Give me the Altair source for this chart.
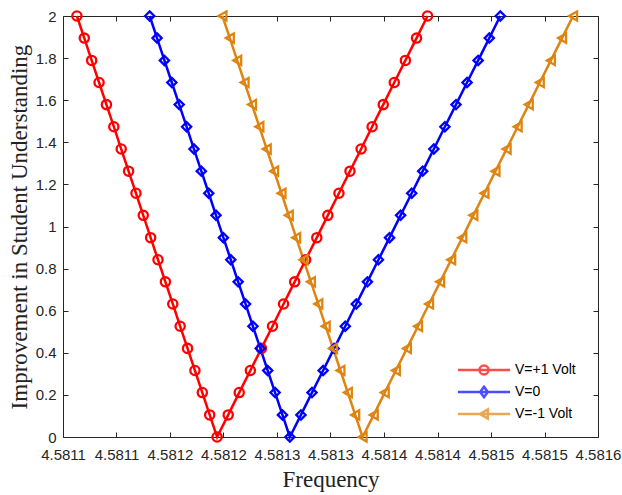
import altair as alt
import pandas as pd

# ---------------- data ----------------
series = ["V=+1 Volt", "V=0", "V=-1 Volt"]
colors = ["#FF0000", "#0000FF", "#DE8410"]
marker_shapes = ["circle", "diamond", "triangle-left"]

# Improvement level of each point on a branch (bottom -> top)
levels = [0.0, 0.105, 0.211, 0.316, 0.421, 0.526, 0.632, 0.737, 0.842, 0.947,
          1.053, 1.158, 1.263, 1.368, 1.474, 1.579, 1.684, 1.789, 1.895, 2.0]

# Frequencies of the left (falling) and right (rising) branches, bottom -> top
red_left = [4.5812440, 4.5812371, 4.5812302, 4.5812233, 4.5812164, 4.5812095, 4.5812026,
            4.5811957, 4.5811888, 4.5811819, 4.5811750, 4.5811682, 4.5811613, 4.5811544,
            4.5811475, 4.5811406, 4.5811337, 4.5811268, 4.5811199, 4.5811130]
red_right = [4.5812440, 4.5812544, 4.5812647, 4.5812751, 4.5812854, 4.5812958, 4.5813061,
             4.5813165, 4.5813268, 4.5813372, 4.5813475, 4.5813579, 4.5813682, 4.5813786,
             4.5813889, 4.5813993, 4.5814096, 4.5814200, 4.5814304, 4.5814407]
blue_left = [4.5813120, 4.5813051, 4.5812982, 4.5812913, 4.5812844, 4.5812775, 4.5812706,
             4.5812637, 4.5812568, 4.5812499, 4.5812430, 4.5812362, 4.5812293, 4.5812224,
             4.5812155, 4.5812086, 4.5812017, 4.5811948, 4.5811879, 4.5811810]
blue_right = [4.5813120, 4.5813224, 4.5813327, 4.5813431, 4.5813534, 4.5813638, 4.5813741,
              4.5813845, 4.5813948, 4.5814052, 4.5814155, 4.5814259, 4.5814362, 4.5814466,
              4.5814569, 4.5814673, 4.5814776, 4.5814880, 4.5814984, 4.5815087]
orange_left = [4.5813800, 4.5813731, 4.5813662, 4.5813593, 4.5813524, 4.5813455, 4.5813386,
               4.5813317, 4.5813248, 4.5813179, 4.5813110, 4.5813042, 4.5812973, 4.5812904,
               4.5812835, 4.5812766, 4.5812697, 4.5812628, 4.5812559, 4.5812490]
orange_right = [4.5813800, 4.5813904, 4.5814007, 4.5814111, 4.5814214, 4.5814318, 4.5814421,
                4.5814525, 4.5814628, 4.5814732, 4.5814835, 4.5814939, 4.5815042, 4.5815146,
                4.5815249, 4.5815353, 4.5815456, 4.5815560, 4.5815664, 4.5815767]

x_ticks = [4.5811, 4.58115, 4.5812, 4.58125, 4.5813, 4.58135, 4.5814, 4.58145, 4.5815, 4.58155, 4.5816]
x_tick_labels = ["4.5811", "4.5811", "4.5812", "4.5812", "4.5813", "4.5813",
                 "4.5814", "4.5814", "4.5815", "4.5815", "4.5816"]
y_ticks = [0, 0.2, 0.4, 0.6, 0.8, 1.0, 1.2, 1.4, 1.6, 1.8, 2.0]

branches = {
    series[0]: (red_left, red_right),
    series[1]: (blue_left, blue_right),
    series[2]: (orange_left, orange_right),
}

rows = []
for name, (left, right) in branches.items():
    order = 0
    for f, v in reversed(list(zip(left, levels))):
        rows.append({"series": name, "freq": f, "val": v, "order": order})
        order += 1
    for f, v in list(zip(right, levels))[1:]:
        rows.append({"series": name, "freq": f, "val": v, "order": order})
        order += 1
df = pd.DataFrame(rows)

# ---------------- layout ----------------
W, H = 535, 421
AXIS_COLOR = "#262626"

x_scale = alt.Scale(domain=[4.5811, 4.5816], nice=False, zero=False)
y_scale = alt.Scale(domain=[0, 2], nice=False, zero=True)

label_expr = "[" + ",".join("'%s'" % s for s in x_tick_labels) + "][round((datum.value - 4.5811) / 0.00005)]"

color_scale = alt.Scale(domain=series, range=colors)
marker_scale = alt.Scale(domain=series, range=marker_shapes)
legend_shapes = [
    "M -5.8 0 L 5.8 0 M -1 0 A 1 1 0 1 0 1 0 A 1 1 0 1 0 -1 0",
    "M -5.8 0 L 5.8 0 M 0 -1.15 L 0.85 0 L 0 1.15 L -0.85 0 Z",
    "M -5.8 0 L 5.8 0 M -0.9 0 L 0.85 -1 L 0.85 1 Z",
]
legend_shape_scale = alt.Scale(domain=series, range=legend_shapes)

legend_props = dict(title=None, orient="none", legendX=414, legendY=347,
                    symbolSize=81, symbolStrokeWidth=2.5, labelOffset=24,
                    rowPadding=1, padding=0, labelFontSize=14,
                    labelFont="Liberation Sans", labelColor="#000000")

base = alt.Chart(df)

# main axes (labels + titles + left/bottom border)
lines = base.mark_line(strokeWidth=2.5).encode(
    x=alt.X("freq:Q", scale=x_scale,
            axis=alt.Axis(orient="bottom", values=x_ticks, labelExpr=label_expr,
                          labelOverlap=False, labelFlush=False, labelFontSize=15,
                          ticks=False, tickSize=0, labelPadding=10, grid=False,
                          title="Frequency", titlePadding=6)),
    y=alt.Y("val:Q", scale=y_scale,
            axis=alt.Axis(orient="left", values=y_ticks, format="~g",
                          ticks=False, tickSize=0, labelPadding=7, grid=False,
                          title="Improvement in Student Understanding", titlePadding=4)),
    color=alt.Color("series:N", scale=color_scale, legend=None),
    detail="series:N",
    order="order:Q",
)

# markers + inward ticks on bottom/left
points = base.mark_point(filled=False, strokeWidth=2.3, size=85, opacity=1).encode(
    x=alt.X("freq:Q", scale=x_scale,
            axis=alt.Axis(orient="top", offset=-H, values=x_ticks, labels=False,
                          domain=False, ticks=True, tickSize=5, grid=False, title=None)),
    y=alt.Y("val:Q", scale=y_scale,
            axis=alt.Axis(orient="right", offset=-W, values=y_ticks, labels=False,
                          domain=False, ticks=True, tickSize=5, grid=False, title=None)),
    color=alt.Color("series:N", scale=color_scale, legend=None),
    shape=alt.Shape("series:N", scale=marker_scale, legend=None),
)

# legend carrier + top/right border with inward ticks
legend_layer = base.transform_filter("datum.val < 0").mark_point(
    filled=False, strokeWidth=2.5).encode(
    x=alt.X("freq:Q", scale=x_scale,
            axis=alt.Axis(orient="bottom", offset=-H, values=x_ticks, labels=False,
                          domain=True, ticks=True, tickSize=5, grid=False, title=None)),
    y=alt.Y("val:Q", scale=y_scale,
            axis=alt.Axis(orient="left", offset=-W, values=y_ticks, labels=False,
                          domain=True, ticks=True, tickSize=5, grid=False, title=None)),
    color=alt.Color("series:N", scale=color_scale, legend=alt.Legend(**legend_props)),
    shape=alt.Shape("series:N", scale=legend_shape_scale, legend=alt.Legend(**legend_props)),
)

chart = alt.layer(lines, points, legend_layer).resolve_axis(
    x="independent", y="independent"
).resolve_scale(
    color="independent", shape="independent"
).properties(
    width=W, height=H,
    autosize=alt.AutoSizeParams(type="none"),
    padding={"left": 63, "top": 16, "right": 24, "bottom": 58},
    background="white",
).configure_view(
    stroke=None
).configure_axis(
    domainColor=AXIS_COLOR, tickColor=AXIS_COLOR, labelColor=AXIS_COLOR,
    domainWidth=1, tickWidth=1,
    labelFont="Liberation Sans", labelFontSize=15,
    titleFont="Liberation Serif", titleFontSize=23, titleFontWeight="normal",
    titleColor="#222222",
)

chart.save("out.html", embed_options={"renderer": "svg", "actions": False})
